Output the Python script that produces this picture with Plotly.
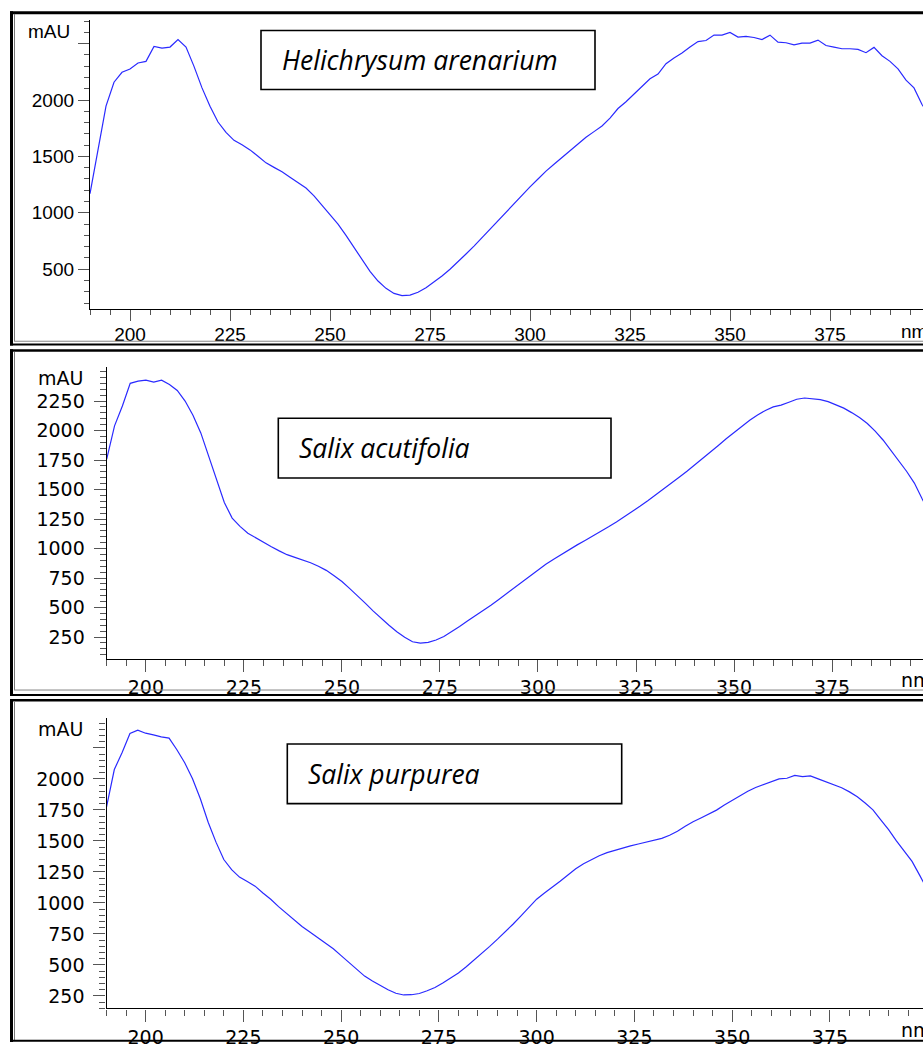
import plotly.graph_objects as go

# ---------------- data ----------------
titles = ["Helichrysum arenarium", "Salix acutifolia", "Salix purpurea"]

wl_helichrysum = list(range(190, 402, 2))
abs_helichrysum = [
    1170, 1560, 1946, 2158, 2246, 2276, 2329, 2343, 2475, 2461,   # 190-208
    2470, 2537, 2470, 2299, 2108, 1946, 1805, 1714, 1643, 1604,   # 210-228
    1558, 1502, 1443, 1403, 1364, 1315, 1270, 1220, 1150, 1070,   # 230-248
    990, 900, 800, 690, 580, 480, 395, 330, 285, 265,             # 250-268
    270, 295, 335, 385, 440, 500, 565, 635, 705, 780,             # 270-288
    855, 930, 1010, 1085, 1160, 1230, 1300, 1370, 1430, 1490,     # 290-308
    1550, 1610, 1670, 1720, 1770, 1840, 1925, 1985, 2055, 2120,   # 310-328
    2188, 2230, 2323, 2373, 2417, 2470, 2519, 2528, 2576, 2576,   # 330-348
    2599, 2558, 2564, 2555, 2537, 2576, 2514, 2508, 2490, 2505,   # 350-368
    2505, 2532, 2484, 2470, 2455, 2455, 2449, 2420, 2467, 2393,   # 370-388
    2343, 2276, 2176, 2108, 1960, 1860,                           # 390-400
]

wl_acutifolia = list(range(190, 402, 2))
abs_acutifolia = [
    1758, 2040, 2208, 2400, 2419, 2427, 2410, 2427, 2390, 2340,   # 190-208
    2250, 2130, 1980, 1780, 1580, 1390, 1258, 1188, 1130, 1090,   # 210-228
    1050, 1015, 980, 948, 925, 905, 880, 850, 815, 770,           # 230-248
    720, 660, 600, 535, 470, 408, 350, 295, 248, 210,             # 250-268
    198, 205, 225, 255, 295, 340, 385, 428, 474, 520,             # 270-288
    568, 618, 668, 720, 770, 821, 866, 910, 952, 992,             # 290-308
    1031, 1068, 1105, 1144, 1184, 1225, 1268, 1312, 1358, 1405,   # 310-328
    1453, 1503, 1553, 1604, 1655, 1708, 1762, 1818, 1874, 1930,   # 330-348
    1985, 2038, 2088, 2132, 2170, 2200, 2215, 2240, 2265, 2276,   # 350-368
    2272, 2262, 2245, 2215, 2190, 2152, 2110, 2060, 1995, 1920,   # 370-388
    1831, 1745, 1655, 1555, 1420, 1300,                           # 390-400
]

wl_purpurea = list(range(190, 402, 2))
abs_purpurea = [
    1772, 2075, 2213, 2365, 2393, 2368, 2355, 2338, 2328, 2235,   # 190-208
    2130, 2000, 1840, 1650, 1490, 1350, 1268, 1208, 1172, 1135,   # 210-228
    1080, 1030, 970, 915, 860, 810, 765, 720, 675, 630,           # 230-248
    575, 520, 460, 410, 370, 335, 300, 272, 258, 260,             # 250-268
    270, 292, 318, 355, 395, 435, 485, 538, 592, 650,             # 270-288
    708, 765, 830, 895, 965, 1030, 1080, 1125, 1175, 1225,        # 290-308
    1275, 1315, 1350, 1380, 1405, 1425, 1445, 1460, 1475, 1488,   # 310-328
    1502, 1520, 1545, 1578, 1618, 1655, 1685, 1715, 1748, 1790,   # 330-348
    1826, 1865, 1900, 1930, 1952, 1975, 2000, 2005, 2028, 2018,   # 350-368
    2024, 2000, 1975, 1950, 1928, 1895, 1855, 1805, 1750, 1670,   # 370-388
    1590, 1500, 1420, 1335, 1220, 1100,                           # 390-400
]

x_ticks = [200, 225, 250, 275, 300, 325, 350, 375]
y_ticks_1 = [500, 1000, 1500, 2000, 2500]
y_text_1 = ["500", "1000", "1500", "2000", ""]
y_ticks_2 = [250, 500, 750, 1000, 1250, 1500, 1750, 2000, 2250]
y_text_2 = ["250", "500", "750", "1000", "1250", "1500", "1750", "2000", "2250"]
y_ticks_3 = [250, 500, 750, 1000, 1250, 1500, 1750, 2000, 2250]
y_text_3 = ["250", "500", "750", "1000", "1250", "1500", "1750", "2000", ""]

# ---------------- layout geometry (pixels) ----------------
W, H = 923, 1048
def fx(px):
    return px / W
def fy(py):
    return 1 - py / H

panels = [
    dict(x0=90.0, top=20.0, bot=311.0, xr=[190, 398.25], yr=[145, 2711],
         wl=wl_helichrysum, ab=abs_helichrysum, yt=y_ticks_1, ytt=y_text_1,
         ymin=100, font="Liberation Sans", fs=19, maj=11, mn=5,
         xstand=-3, ystand=0,
         box=(261, 30.7, 595, 90), mau_y=31.7, lab_r=72),
    dict(x0=106.7, top=369.3, bot=662.3, xr=[190, 398.2], yr=[68, 2537],
         wl=wl_acutifolia, ab=abs_acutifolia, yt=y_ticks_2, ytt=y_text_2,
         ymin=50, font="DejaVu Sans", fs=19, maj=12, mn=6,
         xstand=0, ystand=5,
         box=(278.3, 420.7, 611, 480.7), mau_y=380, lab_r=85),
    dict(x0=106.5, top=721.7, bot=1014.3, xr=[190, 398.8], yr=[149, 2494],
         wl=wl_purpurea, ab=abs_purpurea, yt=y_ticks_3, ytt=y_text_3,
         ymin=50, font="DejaVu Sans", fs=19, maj=12, mn=6,
         xstand=0, ystand=5,
         box=(287.3, 748.3, 621.7, 808.3), mau_y=733, lab_r=85),
]

fig = go.Figure()
layout = dict(
    width=W, height=H, margin=dict(l=0, r=0, t=0, b=0),
    paper_bgcolor="white", plot_bgcolor="white", showlegend=False,
)
shapes = []
annotations = []
tick_col = "#555555"

for i, p in enumerate(panels, start=1):
    sfx = "" if i == 1 else str(i)
    fig.add_trace(go.Scatter(
        x=p["wl"], y=p["ab"], mode="lines",
        line=dict(color="#2a2aff", width=1.2),
        xaxis="x" + sfx, yaxis="y" + sfx, hoverinfo="skip",
    ))
    tf = dict(family=p["font"], size=p["fs"], color="black")
    layout["xaxis" + sfx] = dict(
        domain=[fx(p["x0"]), 1], range=p["xr"], anchor="y" + sfx,
        showline=True, linecolor="black", linewidth=1.3, mirror=False,
        showgrid=False, zeroline=False,
        ticks="outside", ticklen=p["maj"], tickwidth=1, tickcolor=tick_col,
        tickmode="array", tickvals=x_ticks, tickfont=tf,
        ticklabelstandoff=p["xstand"],
        minor=dict(ticks="outside", ticklen=p["mn"], tickwidth=1,
                   tickcolor=tick_col, tickmode="linear", tick0=0, dtick=5,
                   showgrid=False),
    )
    layout["yaxis" + sfx] = dict(
        domain=[fy(p["bot"]), fy(p["top"])], range=p["yr"], anchor="x" + sfx,
        showline=True, linecolor="black", linewidth=1.3,
        showgrid=False, zeroline=False,
        ticks="outside", ticklen=p["maj"], tickwidth=1, tickcolor=tick_col,
        tickmode="array", tickvals=p["yt"], ticktext=p["ytt"], tickfont=tf,
        ticklabelstandoff=p["ystand"],
        minor=dict(ticks="outside", ticklen=p["mn"], tickwidth=1,
                   tickcolor=tick_col, tickmode="linear", tick0=0,
                   dtick=p["ymin"], showgrid=False),
    )
    # unit labels
    annotations.append(dict(
        text="mAU", xref="paper", yref="paper", x=fx(p["lab_r"]), y=fy(p["mau_y"]),
        xanchor="right", yanchor="middle", showarrow=False, font=tf,
    ))
    annotations.append(dict(
        text="nm", xref="paper", yref="paper", x=fx(899), y=fy(p["bot"] + 22),
        xanchor="left", yanchor="middle", showarrow=False, font=tf,
    ))
    # species label box
    bx0, by0, bx1, by1 = p["box"]
    shapes.append(dict(type="rect", xref="paper", yref="paper",
                       x0=fx(bx0), x1=fx(bx1), y0=fy(by1), y1=fy(by0),
                       line=dict(color="black", width=1.6), fillcolor="white",
                       layer="below"))
    annotations.append(dict(
        text="<i>" + titles[i - 1] + "</i>", xref="paper", yref="paper",
        x=fx(bx0 + 19), y=fy((by0 + by1) / 2), xanchor="left", yanchor="middle",
        showarrow=False, font=dict(family="Open Sans", size=26.5, color="black"),
    ))

def hline(y, x0, x1, color, width):
    shapes.append(dict(type="line", xref="paper", yref="paper",
                       x0=fx(x0), x1=fx(x1), y0=fy(y), y1=fy(y),
                       line=dict(color=color, width=width), layer="above"))

def vline(x, y0, y1, color, width):
    shapes.append(dict(type="line", xref="paper", yref="paper",
                       x0=fx(x), x1=fx(x), y0=fy(y0), y1=fy(y1),
                       line=dict(color=color, width=width), layer="above"))

# panel frames
hline(12.8, 10, 923, "black", 3)
vline(11.5, 11.3, 347.5, "black", 3)
vline(14.5, 14, 343, "#777777", 1)
hline(343.2, 14, 923, "#888888", 1)
hline(346.5, 10, 923, "black", 2)

hline(352.5, 10, 923, "black", 2.5)
vline(11.5, 351.3, 700, "black", 3)
vline(14.5, 354, 694, "#777777", 1)
hline(694.0, 14, 923, "#888888", 1)
hline(699.0, 10, 923, "black", 2)

hline(704.3, 10, 923, "black", 2.5)
vline(11.5, 703, 1048, "black", 3)
vline(14.5, 706, 1046, "#777777", 1)
hline(1046.8, 10, 923, "black", 2)

layout["shapes"] = shapes
layout["annotations"] = annotations
fig.update_layout(**layout)
fig.write_html(
    "out.html",
    config={"displayModeBar": False},
    post_script="document.body.style.margin='0';document.body.style.overflow='hidden';",
)
